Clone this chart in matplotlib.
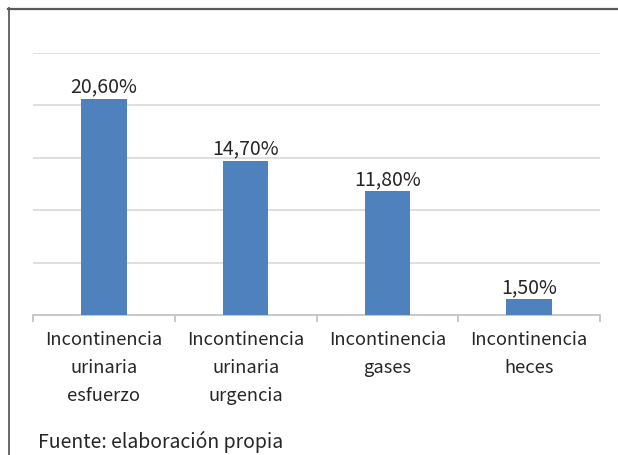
import matplotlib
matplotlib.use("Agg")
import matplotlib.pyplot as plt
from matplotlib.lines import Line2D
from matplotlib.ticker import FixedLocator

# Data
categories = [
    "Incontinencia\nurinaria\nesfuerzo",
    "Incontinencia\nurinaria\nurgencia",
    "Incontinencia\ngases",
    "Incontinencia\nheces",
]
values = [20.6, 14.7, 11.8, 1.5]
value_labels = ["20,60%", "14,70%", "11,80%", "1,50%"]
source_note = "Fuente: elaboración propia"

plt.rcParams["font.family"] = ["Noto Sans CJK KR", "DejaVu Sans"]

W, H = 618, 456
fig = plt.figure(figsize=(W / 100, H / 100), dpi=100)
ax = fig.add_axes([33 / W, (H - 316) / H, (600 - 33) / W, (316 - 53.5) / H])

text_color = "#262626"
fs = 14

xs = list(range(len(values)))
ax.bar(xs, values, width=0.32, color="#4f81bd", zorder=3)
ax.set_xlim(-0.5, len(values) - 0.5)
ax.set_ylim(0, 25)

# gridlines
ax.set_yticks([5, 10, 15, 20, 25])
ax.yaxis.grid(True, color="#d9d9d9", linewidth=1.2)
ax.tick_params(axis="y", left=False, labelleft=False)
ax.set_axisbelow(True)

for s in ["left", "right", "top"]:
    ax.spines[s].set_visible(False)
ax.spines["bottom"].set_color("#bfbfbf")
ax.spines["bottom"].set_linewidth(1.2)

# category labels and boundary ticks
ax.set_xticks(xs)
ax.set_xticklabels(categories, fontsize=13.2, color=text_color, linespacing=1.72)
ax.tick_params(axis="x", which="major", length=0, pad=11)
ax.xaxis.set_minor_locator(FixedLocator([i - 0.5 for i in range(len(values) + 1)]))
ax.tick_params(axis="x", which="minor", length=5, width=1.2, color="#bfbfbf")

# value labels
for xi, v, lab in zip(xs, values, value_labels):
    ax.annotate(lab, (xi, v), xytext=(0, 1.5), textcoords="offset points",
                ha="center", va="bottom", fontsize=fs, color=text_color)

# source note
fig.text(38 / W, 1 - 448 / H, source_note, fontsize=fs, color=text_color,
         ha="left", va="baseline")

# frame lines (left and top)
frame_color = "#5a5a5a"
fig.add_artist(Line2D([8.5 / W, 8.5 / W], [0, 1 - 9 / H], transform=fig.transFigure,
                      color=frame_color, linewidth=1.3))
fig.add_artist(Line2D([8 / W, 1], [1 - 9.5 / H, 1 - 9.5 / H], transform=fig.transFigure,
                      color=frame_color, linewidth=1.6))

fig.savefig("out.png", dpi=100)
